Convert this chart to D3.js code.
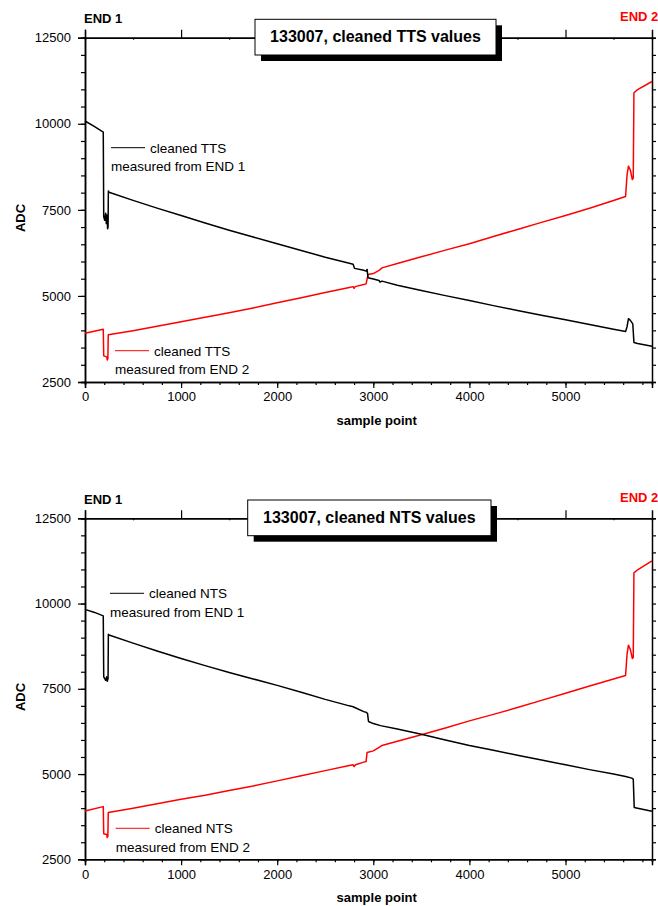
<!DOCTYPE html>
<html>
<head>
<meta charset="utf-8">
<script src="https://cdn.jsdelivr.net/npm/d3@7/dist/d3.min.js"></script>
<style>
  html, body { margin: 0; padding: 0; background: #fff; }
  svg { display: block; font-family: "Liberation Sans", Arial, sans-serif; }
</style>
</head>
<body>
<svg id="chart" width="658" height="906"></svg>
<script>
// ---------- data ----------
const xDomain = [0, 5900];
const yDomain = [2500, 12500];
const xTickLabels = [0, 1000, 2000, 3000, 4000, 5000];
const yTickLabels = [2500, 5000, 7500, 10000, 12500];

const titles = ["133007, cleaned TTS values", "133007, cleaned NTS values"];
const legendTop = ["cleaned TTS", "cleaned NTS"];
const legendBottom = ["measured from END 1", "measured from END 2"];

// TTS, measured from END 1 (black)
const ttsEnd1 = [[0,10080],[100,9920],[190,9760],[195,7300],[205,7200],[215,7400],[222,7100],[230,7350],[235,6950],[240,7000],[243,8050],[250,8010],
  [500,7775],[750,7550],[1000,7335],[1250,7120],[1500,6910],[1750,6710],[2000,6513],[2250,6320],[2500,6125],[2750,5950],[2790,5920],[2805,5800],
  [2900,5745],[2925,5720],[2935,5770],[2945,5530],[3000,5490],[3060,5450],[3070,5400],[3090,5430],[3250,5311],[3500,5160],[3750,5009],[4000,4866],
  [4250,4718],[4500,4579],[4750,4440],[5000,4306],[5250,4169],[5500,4033],[5625,3966],[5640,4100],[5655,4340],[5675,4290],[5700,4190],[5712,3650],
  [5750,3620],[5900,3540]];
// TTS, measured from END 2 (red)
const ttsEnd2 = [[0,3915],[190,4030],[195,3260],[225,3230],[232,3140],[238,3180],[242,3870],[500,3990],[750,4120],[1000,4250],[1250,4380],
  [1500,4510],[1750,4650],[2000,4800],[2250,4950],[2500,5100],[2750,5245],[2790,5270],[2800,5220],[2812,5270],[2900,5330],[2925,5350],[2945,5620],
  [3000,5650],[3060,5740],[3090,5815],[3250,5944],[3500,6135],[3750,6330],[4000,6513],[4250,6724],[4500,6931],[4750,7137],[5000,7334],[5250,7547],
  [5500,7770],[5625,7889],[5640,8500],[5655,8770],[5675,8650],[5695,8380],[5705,8420],[5712,10900],[5750,10990],[5900,11228]];
// NTS, measured from END 1 (black)
const ntsEnd1 = [[0,9830],[100,9740],[190,9640],[195,7850],[215,7750],[225,7850],[232,7720],[240,7800],[243,9100],[250,9080],[500,8840],
  [750,8610],[1000,8390],[1250,8180],[1500,7980],[1750,7790],[2000,7600],[2250,7400],[2500,7190],[2750,7000],[2790,6975],[2900,6830],[2925,6810],
  [2940,6780],[2950,6540],[3000,6480],[3075,6420],[3250,6320],[3500,6170],[3750,6000],[4000,5840],[4250,5700],[4500,5550],[4750,5410],[5000,5270],
  [5250,5130],[5500,5000],[5625,4930],[5690,4880],[5705,4850],[5715,4020],[5750,4000],[5900,3910]];
// NTS, measured from END 2 (red)
const ntsEnd2 = [[0,3917],[190,4045],[195,3250],[225,3230],[232,3140],[238,3180],[242,3870],[500,4000],[750,4130],[1000,4260],[1250,4380],
  [1500,4520],[1750,4650],[2000,4800],[2250,4950],[2500,5100],[2750,5250],[2790,5270],[2800,5220],[2815,5275],[2900,5350],[2925,5370],[2935,5630],
  [3000,5680],[3060,5780],[3090,5840],[3250,5960],[3500,6150],[3750,6350],[4000,6560],[4250,6750],[4500,6950],[4750,7160],[5000,7370],[5250,7580],
  [5500,7790],[5625,7890],[5640,8500],[5655,8780],[5675,8650],[5695,8390],[5705,8420],[5712,10900],[5750,10990],[5900,11250]];

// ---------- drawing ----------
const svg = d3.select("#chart");
const panels = [
  { top: 37.7, bottom: 382, end1: ttsEnd1, end2: ttsEnd2, title: titles[0], leg: legendTop[0],
    box: [255, 19.3, 241, 35.7], titleBase: 41.7, endBase: [22.7, 21],
    legBlack: [111, 147.7], legRed: [115, 350.7], adcY: 218, xLabelBase: 425 },
  { top: 518.3, bottom: 859.3, end1: ntsEnd1, end2: ntsEnd2, title: titles[1], leg: legendTop[1],
    box: [247.7, 500, 243.3, 35.7], titleBase: 523.3, endBase: [504.3, 501.7],
    legBlack: [110, 593.3], legRed: [115.7, 828.3], adcY: 697, xLabelBase: 902 }
];

const xLeft = 85, xRight = 652;

panels.forEach(p => {
  const x = d3.scaleLinear().domain(xDomain).range([xLeft, xRight]);
  const y = d3.scaleLinear().domain(yDomain).range([p.bottom, p.top]);
  const g = svg.append("g");

  // bottom axis: major every 1000 (labelled), minor every 200
  const bottomMinor = d3.axisBottom(x).tickValues(d3.range(0, 5901, 200)).tickSize(3).tickFormat("");
  const bottomMajor = d3.axisBottom(x).tickValues(xTickLabels).tickSize(6).tickPadding(4).tickFormat(d3.format("d"));
  g.append("g").attr("transform", `translate(0,${p.bottom})`).call(bottomMinor);
  g.append("g").attr("transform", `translate(0,${p.bottom})`).call(bottomMajor);

  // top axis: major every 1000 outward, minor every 500 inward
  g.append("g").attr("transform", `translate(0,${p.top})`)
    .call(d3.axisTop(x).tickValues(xTickLabels).tickSize(8).tickFormat(""));
  g.append("g").attr("transform", `translate(0,${p.top})`)
    .call(d3.axisBottom(x).tickValues(d3.range(500, 5901, 1000)).tickSize(2).tickFormat(""));

  // left axis: major every 2500 labelled, minor every 500
  g.append("g").attr("transform", `translate(${xLeft},0)`)
    .call(d3.axisLeft(y).tickValues(d3.range(2500, 12501, 500)).tickSize(4).tickFormat(""));
  g.append("g").attr("transform", `translate(${xLeft},0)`)
    .call(d3.axisLeft(y).tickValues(yTickLabels).tickSize(7).tickPadding(7).tickFormat(d3.format("d")));

  // right axis: every 500, outward
  g.append("g").attr("transform", `translate(${xRight},0)`)
    .call(d3.axisRight(y).tickValues(d3.range(2500, 12501, 500)).tickSize(4).tickFormat(""));

  g.selectAll(".domain").attr("stroke", "#000").attr("stroke-width", 1.5);
  g.selectAll(".tick line").attr("stroke", "#000").attr("stroke-width", 1.2);
  g.selectAll(".tick text").attr("fill", "#000").attr("font-size", 13)
    .attr("font-family", '"Liberation Sans", Arial, sans-serif');

  // data lines
  const line = d3.line().x(d => x(d[0])).y(d => y(d[1]));
  g.append("path").datum(p.end2).attr("d", line).attr("fill", "none")
    .attr("stroke", "#ff0000").attr("stroke-width", 1.5).attr("stroke-linejoin", "round");
  g.append("path").datum(p.end1).attr("d", line).attr("fill", "none")
    .attr("stroke", "#000").attr("stroke-width", 1.5).attr("stroke-linejoin", "round");

  // title box with shadow
  const [bx, by, bw, bh] = p.box;
  g.append("rect").attr("x", bx + 6).attr("y", by + 6).attr("width", bw).attr("height", bh).attr("fill", "#000");
  g.append("rect").attr("x", bx).attr("y", by).attr("width", bw).attr("height", bh)
    .attr("fill", "#fff").attr("stroke", "#000").attr("stroke-width", 1);
  g.append("text").attr("x", bx + bw / 2).attr("y", p.titleBase).attr("text-anchor", "middle")
    .attr("font-size", 16).attr("font-weight", "bold").text(p.title);

  // END labels
  g.append("text").attr("x", 84).attr("y", p.endBase[0]).attr("font-size", 13).attr("font-weight", "bold")
    .attr("fill", "#000").text("END 1");
  g.append("text").attr("x", 620).attr("y", p.endBase[1]).attr("font-size", 13).attr("font-weight", "bold")
    .attr("fill", "#ff0000").text("END 2");

  // legends
  const legs = [{ pos: p.legBlack, color: "#000", sub: legendBottom[0] }, { pos: p.legRed, color: "#ff0000", sub: legendBottom[1] }];
  legs.forEach(l => {
    const [lx, ly] = l.pos;
    g.append("line").attr("x1", lx).attr("x2", lx + 34).attr("y1", ly).attr("y2", ly)
      .attr("stroke", l.color).attr("stroke-width", 1);
    g.append("text").attr("x", lx + 39).attr("y", ly + 5).attr("font-size", 13.5).attr("fill", "#000").text(p.leg);
    g.append("text").attr("x", lx).attr("y", ly + 23.3).attr("font-size", 13.5).attr("fill", "#000").text(l.sub);
  });

  // axis titles
  g.append("text").attr("transform", `translate(25,${p.adcY}) rotate(-90)`).attr("text-anchor", "middle")
    .attr("font-size", 13).attr("font-weight", "bold").text("ADC");
  g.append("text").attr("x", 376.7).attr("y", p.xLabelBase).attr("text-anchor", "middle")
    .attr("font-size", 13).attr("font-weight", "bold").text("sample point");
});
</script>
</body>
</html>
